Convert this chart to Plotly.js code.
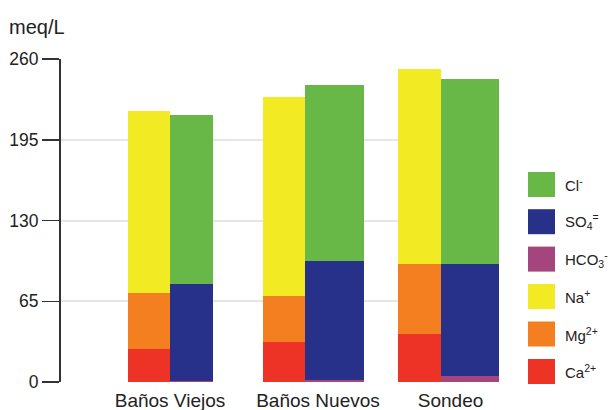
<!DOCTYPE html>
<html>
<head>
<meta charset="utf-8">
<script src="https://cdn.plot.ly/plotly-3.0.1.min.js"></script>
<style>html,body{margin:0;padding:0;background:#fff;}#chart{width:610px;height:410px;}</style>
</head>
<body>
<div id="chart"></div>
<script>
// ---- data ----
const sites = ["Baños Viejos", "Baños Nuevos", "Sondeo"];
const ca   = [26.9, 32.2, 38.4];
const mg   = [45.1, 37.0, 56.6];
const na   = [146.0, 160.3, 157.3];
const hco3 = [1.2, 2.0, 4.5];
const so4  = [77.5, 95.2, 90.3];
const cl   = [135.9, 141.9, 149.5];
const yTicks = [0, 65, 130, 195, 260];
const legendLabels = ["Cl<sup>-</sup>", "SO<sub>4</sub><sup>=</sup>", "HCO<sub>3</sub><sup>-</sup>", "Na<sup>+</sup>", "Mg<sup>2+</sup>", "Ca<sup>2+</sup>"];

// ---- styles / layout constants ----
const FONT = "Liberation Sans, Arial, sans-serif";
const colors = {cl:"#67b846", so4:"#28318a", hco3:"#a5457e", na:"#f2ea23", mg:"#f47f20", ca:"#ec3326"};
const catW = 0.313;                 // cation bar width (category units)
const anW  = [0.315, 0.432, 0.431]; // anion bar widths
const idx = sites.map((_, i) => i);
const xCat = idx.map(i => i - catW / 2);
const xAn  = idx.map(i => i + anW[i] / 2);
const labelPos = [0, 1.093, 2.072];

function bar(x, y, w, color) {
  return {type: "bar", x: x, y: y, width: w, marker: {color: color, line: {width: 0}},
          showlegend: false, hoverinfo: "skip"};
}
const data = [
  bar(xCat, ca, idx.map(() => catW), colors.ca),
  bar(xCat, mg, idx.map(() => catW), colors.mg),
  bar(xCat, na, idx.map(() => catW), colors.na),
  bar(xAn, hco3, anW, colors.hco3),
  bar(xAn, so4, anW, colors.so4),
  bar(xAn, cl, anW, colors.cl)
];

// plot-area pixel box
const L = 61, R = 499, T = 59, B = 382;
const px = p => (p - L) / (R - L);
const py = p => (B - p) / (B - T);

const legendColors = [colors.cl, colors.so4, colors.hco3, colors.na, colors.mg, colors.ca];
const legendCentersPx = [184.5, 221.7, 259.1, 296.5, 334.0, 371.5];
const shapes = [], annotations = [];
legendColors.forEach((c, k) => {
  const cy = legendCentersPx[k];
  shapes.push({type: "rect", xref: "paper", yref: "paper", x0: px(528), x1: px(555),
               y0: py(cy + 12.5), y1: py(cy - 12.5), fillcolor: c, line: {width: 0}});
  annotations.push({xref: "paper", yref: "paper", x: px(563), y: py(cy), xanchor: "left", yanchor: "middle",
                    text: legendLabels[k], showarrow: false,
                    font: {family: FONT, size: 15, color: "#222"}});
});

const layout = {
  width: 610, height: 410,
  margin: {l: L, r: 610 - R, t: T, b: 410 - B, pad: 0},
  paper_bgcolor: "#fff", plot_bgcolor: "#fff",
  barmode: "stack",
  showlegend: false,
  title: {text: "meq/L", x: 9 / 610, xanchor: "left", y: 1 - 27 / 410, yanchor: "middle",
          font: {family: FONT, size: 20, color: "#222"}},
  xaxis: {range: [-0.805, 2.43], tickmode: "array", tickvals: labelPos, ticktext: sites,
          showgrid: false, zeroline: false, showline: false, ticks: "", ticklabelstandoff: 5,
          tickfont: {family: FONT, size: 19, color: "#222"}},
  yaxis: {range: [0, 260], tickmode: "array", tickvals: yTicks, ticktext: yTicks.map(String),
          showgrid: true, gridcolor: "#e6e6e6", gridwidth: 2, zeroline: false,
          showline: true, linecolor: "#333", linewidth: 2,
          ticks: "outside", ticklen: 17, tickwidth: 1.5, tickcolor: "#333",
          tickfont: {family: FONT, size: 17.5, color: "#222"}},
  shapes: shapes,
  annotations: annotations
};

Plotly.newPlot("chart", data, layout, {displayModeBar: false, staticPlot: true});
</script>
</body>
</html>
